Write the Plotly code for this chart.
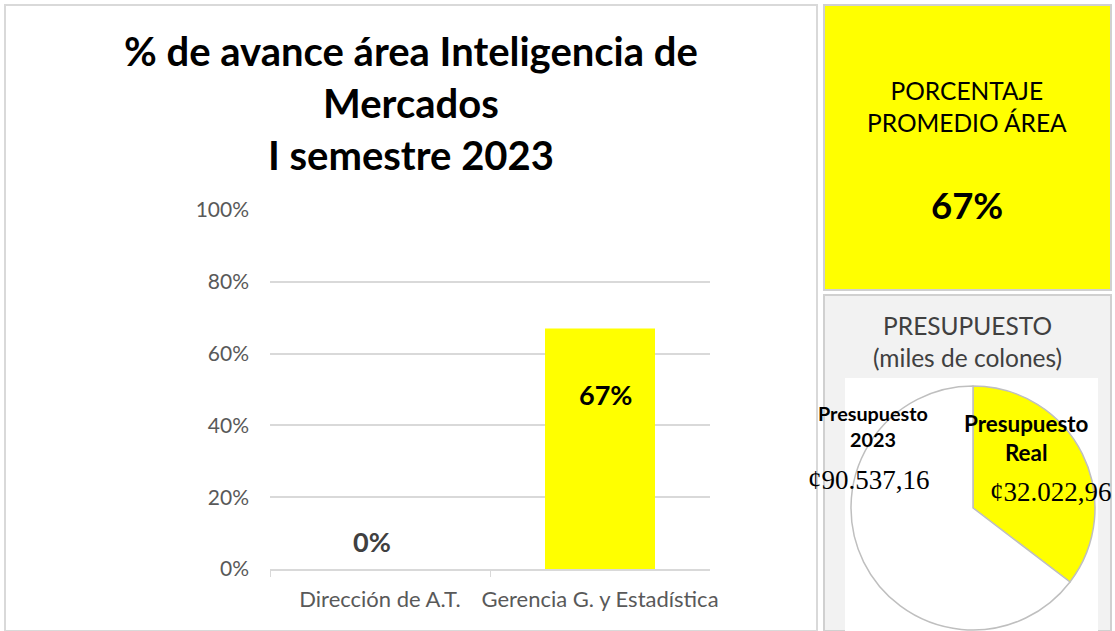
import plotly.graph_objects as go

# datos del avance por dependencia
areas = ["Dirección de A.T.", "Gerencia G. y Estadística"]
avance = [0.0, 0.67]
promedio_area = 0.67

# presupuesto (miles de colones)
presupuesto_2023 = 90537.16
presupuesto_real = 32022.96
pie_labels = ["Presupuesto Real", "Presupuesto 2023"]

W, H = 1115, 631
GRAY = "#595959"
YELLOW = "#ffff00"


def px(x):
    return x / W


def py(y):
    return 1 - y / H


def colones(v):
    s = f"{v:,.2f}"
    return "¢" + s.replace(",", "X").replace(".", ",").replace("X", ".")


fig = go.Figure()

fig.add_trace(go.Bar(
    x=areas, y=avance,
    marker=dict(color=YELLOW, line=dict(width=0)),
    hoverinfo="x+y",
    showlegend=False,
))

fig.add_trace(go.Pie(
    labels=pie_labels,
    values=[presupuesto_real, presupuesto_2023 - presupuesto_real],
    sort=False, direction="clockwise", rotation=0,
    marker=dict(colors=[YELLOW, "white"], line=dict(color="#bfbfbf", width=1.5)),
    textinfo="none", hoverinfo="label+value",
    domain=dict(x=[px(851), px(1095)], y=[py(630), py(386)]),
    showlegend=False,
))

shapes = [
    dict(type="rect", xref="paper", yref="paper", x0=px(5), x1=px(817), y0=0, y1=py(5),
         line=dict(color="#d9d9d9", width=2), fillcolor="white", layer="below"),
    dict(type="rect", xref="paper", yref="paper", x0=px(824), x1=px(1111), y0=py(290), y1=py(5),
         line=dict(color="#d0d0d0", width=2), fillcolor=YELLOW, layer="below"),
    dict(type="rect", xref="paper", yref="paper", x0=px(824), x1=px(1111), y0=0, y1=py(295),
         line=dict(color="#d0d0d0", width=2), fillcolor="#f2f2f2", layer="below"),
    dict(type="rect", xref="paper", yref="paper", x0=px(845), x1=px(1098), y0=0, y1=py(378),
         line=dict(width=0), fillcolor="white", layer="below"),
]

ann = [
    dict(xref="paper", yref="paper", x=px(411), y=py(103),
         text="<b>% de avance área Inteligencia de<br>Mercados<br>I semestre 2023</b>",
         font=dict(family="Lato", size=40, color="black")),
    dict(xref="paper", yref="paper", x=px(967), y=py(106), text="PORCENTAJE<br>PROMEDIO ÁREA",
         font=dict(family="Lato", size=24.5, color="black")),
    dict(xref="paper", yref="paper", x=px(967), y=py(205), text=f"<b>{promedio_area:.0%}</b>",
         font=dict(family="Lato", size=36.5, color="black")),
    dict(xref="paper", yref="paper", x=px(967), y=py(341), text="PRESUPUESTO<br>(miles de colones)",
         font=dict(family="Lato", size=24.5, color="#404040")),
    dict(xref="paper", yref="paper", x=px(873), y=py(426), text="<b>Presupuesto<br>2023</b>",
         font=dict(family="Lato", size=19.8, color="black")),
    dict(xref="paper", yref="paper", x=px(869), y=py(480), text=colones(presupuesto_2023),
         font=dict(family="Liberation Serif", size=27, color="black")),
    dict(xref="paper", yref="paper", x=px(1026), y=py(438), text="<b>Presupuesto<br>Real</b>",
         font=dict(family="Lato", size=22.4, color="black")),
    dict(xref="paper", yref="paper", x=px(1051), y=py(492), text=colones(presupuesto_real),
         font=dict(family="Liberation Serif", size=27, color="black")),
    # etiquetas de las barras
    dict(xref="x", yref="y", x=areas[0], y=avance[0], xshift=-8, yshift=28,
         text=f"<b>{avance[0]:.0%}</b>", font=dict(family="Lato", size=27, color="#404040")),
    dict(xref="x", yref="y", x=areas[1], y=avance[1], xshift=5, yshift=-66,
         text=f"<b>{avance[1]:.0%}</b>", font=dict(family="Lato", size=27, color="black")),
]
for a in ann:
    a.update(showarrow=False, xanchor="center", yanchor="middle")

fig.update_layout(
    width=W, height=H, autosize=False,
    margin=dict(l=0, r=0, t=0, b=0),
    paper_bgcolor="white", plot_bgcolor="rgba(0,0,0,0)",
    bargap=0.5,
    shapes=shapes, annotations=ann,
    font=dict(family="Lato", color=GRAY),
)
fig.update_xaxes(
    domain=[px(270), px(710)],
    showline=True, linecolor="#d9d9d9", linewidth=1.5,
    ticks="outside", tickson="boundaries", ticklen=6, tickcolor="#d9d9d9",
    tickfont=dict(family="Lato", size=22, color=GRAY),
    tickangle=0, automargin=False, ticklabelstandoff=10,
    showgrid=False,
)
fig.update_yaxes(
    domain=[py(569), py(210)], range=[0, 1],
    tickvals=[0, 0.2, 0.4, 0.6, 0.8, 1.0], tickformat=".0%",
    showgrid=True, gridcolor="#d9d9d9", gridwidth=1.5,
    zeroline=False, showline=False, ticks="",
    ticklabelstandoff=20, automargin=False,
    tickfont=dict(family="Lato", size=21, color=GRAY),
)

fig.write_html("out.html", config={"displayModeBar": False},
               post_script="document.body.style.margin='0';")
